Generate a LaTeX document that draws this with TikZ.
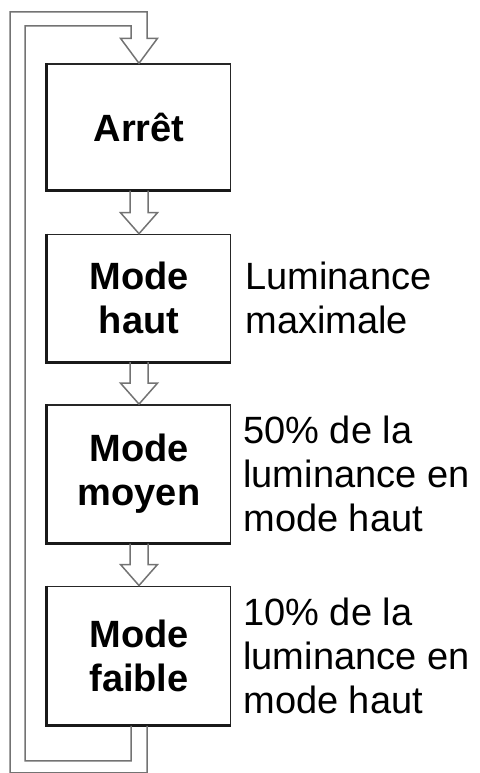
\documentclass[tikz,border=0pt]{standalone}
\usepackage{fontspec}
\setmainfont{Liberation Sans}
\usetikzlibrary{positioning}
\usetikzlibrary{calc}
\tikzset{modebox/.style = {draw = black!85, line width = 1.4pt, fill = white, minimum width = 183pt,
    align = center, inner sep = 0, font = \bfseries\fontsize{38}{44}\selectfont}}
\tikzset{note/.style = {align = left, inner sep = 0, font = \fontsize{38}{44}\selectfont}}
\tikzset{arrowline/.style = {draw = black!55, line width = 1.5pt, line join = miter}}
\tikzset{shadowline/.style = {draw = black!90, line width = 3pt}}
\newcommand{\blockarrow}[2]{%
  \draw [arrowline] ($(#1.south)+(-9,0)$) -- ($(#2.north)+(-9,-21)$) -- ++(-9.5,0) -- (#2.north)
    -- ++(18.5,-21) -- ++(-9.5,0) -- ($(#1.south)+(9,0)$);}

\begin{document}
\begin{tikzpicture}[x = 1pt, y = -1pt]
    \useasboundingbox (0, 0) rectangle (479, 773);

    \node [modebox, minimum height = 126pt] (arret) at (139, 127) {Arrêt};
    \node [modebox, minimum height = 127pt, below = 43pt of arret] (haut) {Mode\\haut};
    \node [modebox, minimum height = 138pt, below = 42pt of haut] (moyen) {Mode\\moyen};
    \node [modebox, minimum height = 139pt, below = 42pt of moyen] (faible) {Mode\\faible};

    \foreach \b in {arret, haut, moyen, faible}
      \draw [shadowline] (\b.north west) -- (\b.south west) -- (\b.south east);

    \node [note, right = 14pt of haut] (hautnote) {Luminance\\maximale};
    \node [note, right = 12pt of moyen] (moyennote) {50\% de la\\luminance en\\mode haut};
    \node [note, right = 12pt of faible] (faiblenote) {10\% de la\\luminance en\\mode haut};

    \blockarrow{arret}{haut}
    \blockarrow{haut}{moyen}
    \blockarrow{moyen}{faible}

    % retour vers l'arret
    \draw [arrowline] ($(faible.south)+(-8,0)$) -- ++(0,35) -| (25, 26)
      -| ($(arret.north)+(-8,-25)$) -- ++(-10.5,0) -- (arret.north) -- ++(18.5,-25)
      -- ++(-10.5,0) |- (10, 12) |- ($(faible.south)+(8,47)$) -- ++(0,-47);
\end{tikzpicture}
\end{document}
